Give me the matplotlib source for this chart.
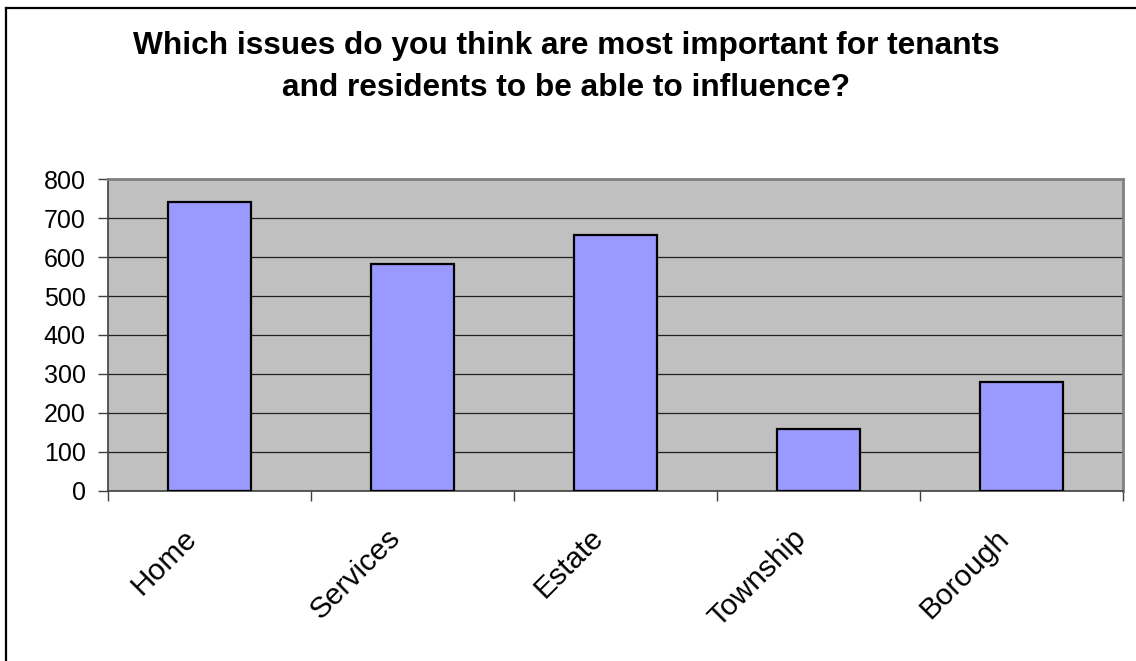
import numpy as np
import matplotlib
matplotlib.use("Agg")
import matplotlib.pyplot as plt
import matplotlib.transforms as mtransforms
from matplotlib.lines import Line2D
from matplotlib.ticker import FixedLocator

categories = ["Home", "Services", "Estate", "Township", "Borough"]
counts = [741, 583, 657, 158, 279]
y_ticks = [0, 100, 200, 300, 400, 500, 600, 700, 800]

title = ("Which issues do you think are most important for tenants\n"
         "and residents to be able to influence?")

plt.rcParams["font.family"] = ["Liberation Sans", "DejaVu Sans"]

W, H = 1136, 661
fig = plt.figure(figsize=(W / 100, H / 100), dpi=100)
fig.patch.set_facecolor("white")

# plot area in pixel terms
left, right, top, bottom = 108, 1123, 179.3, 490.7
ax = fig.add_axes([left / W, 1 - bottom / H, (right - left) / W, (bottom - top) / H])
ax.set_facecolor("#C0C0C0")

x = np.arange(len(categories)) + 0.5
ax.bar(x, counts, width=0.41, color="#9999FF", edgecolor="black",
       linewidth=1.6, zorder=3)

ax.set_xlim(0, len(categories))
ax.set_ylim(0, 800)
ax.set_yticks(y_ticks)
ax.yaxis.grid(True, color="#202020", linewidth=0.9, zorder=1)
ax.set_axisbelow(True)

# tick marks sit on the category boundaries
ax.xaxis.set_major_locator(FixedLocator(np.arange(len(categories) + 1)))
ax.set_xticklabels([])
ax.tick_params(axis="x", which="major", direction="out", length=7,
               width=1, color="#404040")
ax.tick_params(axis="y", direction="out", length=7, width=1,
               color="#404040", labelsize=18, pad=9)

# slanted category names under the bar centres
offset = mtransforms.ScaledTranslation(-17 / 100, -43 / 100, fig.dpi_scale_trans)
for xi, name in zip(x, categories):
    ax.text(xi, 0, name, transform=ax.get_xaxis_transform() + offset,
            rotation=45, rotation_mode="anchor", ha="right", va="center",
            fontsize=21.5)

for side in ("left", "bottom"):
    ax.spines[side].set_color("#404040")
    ax.spines[side].set_linewidth(1.2)
for side in ("top", "right"):
    ax.spines[side].set_color("#808080")
    ax.spines[side].set_linewidth(2)

fig.text(566 / W, 1 - 67 / H, title, ha="center", va="center",
         fontsize=22.8, fontweight="bold", linespacing=1.5)

# chart frame (left and top edges)
fig.add_artist(Line2D([5.5 / W, 5.5 / W], [0, 1 - 8 / H],
                      transform=fig.transFigure, color="black", linewidth=1.6))
fig.add_artist(Line2D([5.5 / W, 1], [1 - 8 / H, 1 - 8 / H],
                      transform=fig.transFigure, color="black", linewidth=1.6))

fig.savefig("out.png", dpi=100)
